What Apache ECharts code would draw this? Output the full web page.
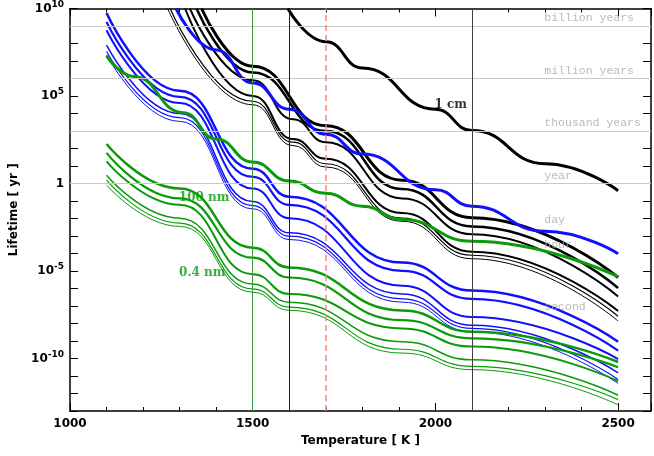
<!DOCTYPE html>
<html>
<head>
<meta charset="utf-8">
<script src="https://cdn.jsdelivr.net/npm/echarts@6/dist/echarts.min.js"></script>
<style>html,body{margin:0;padding:0;background:#fff}#main{width:654px;height:456px}</style>
</head>
<body>
<div id="main"></div>
<script>
// log10(lifetime / yr), temperatures in K
var blackT = [
  [1596, 1700, 1800, 2000, 2100, 2300, 2500],      // 1 cm
  [1360, 1500, 1700, 1909, 2100, 2500],
  [1346, 1500, 1700, 1909, 2100, 2500],
  [1328, 1500, 1610, 1700, 1909, 2100, 2500],
  [1315, 1500, 1610, 1700, 1909, 2100, 2500],
  [1274, 1500, 1610, 1700, 1909, 2100, 2500],
  [1267, 1500, 1610, 1700, 1909, 2100, 2500]
];
var blackLog = [
  [10, 8.1, 6.6, 4.24, 3.03, 1.13, -0.41],
  [10, 6.7, 3.3, 0.19, -1.95, -5.37],
  [10, 6.35, 3.0, -0.32, -2.45, -5.97],
  [10, 5.9, 3.67, 2.36, -0.85, -2.9, -6.46],
  [10, 5.0, 2.54, 1.41, -1.69, -3.9, -7.29],
  [10, 4.7, 2.36, 1.13, -1.98, -4.1, -7.59],
  [10, 4.5, 2.17, 0.94, -2.16, -4.3, -7.86]
];
var blackWidth = [3, 3, 2.5, 2, 2, 1.2, 1];

var blueTopT = [1290, 1400, 1500, 1600, 1700, 1800, 2000, 2100, 2300, 2500];
var blueTopLog = [10, 7.63, 5.75, 4.24, 2.82, 1.68, -0.36, -1.3, -2.73, -4.01];
var blueT = [1100, 1300, 1500, 1600, 1909, 2100, 2500];
var blueLog = [
  [9.74, 5.3, 0.85, -0.75, -4.52, -6.12, -9.04],
  [9.23, 4.95, 0.38, -1.22, -4.99, -6.59, -9.55],
  [8.76, 4.6, -0.28, -1.98, -5.84, -7.63, -10.03],
  [7.91, 4.0, -1.03, -2.82, -6.31, -8.1, -10.82],
  [7.54, 3.77, -1.26, -3.01, -6.59, -8.28, -11.2],
  [7.33, 3.55, -1.45, -3.2, -6.78, -8.47, -11.43]
];
var blueWidth = [2.5, 2.2, 2, 1.5, 1.2, 1];

var greenTopT = [1100, 1174, 1310, 1400, 1500, 1600, 1700, 1800, 1909, 2100, 2500];
var greenTopLog = [7.29, 6.12, 4.05, 2.54, 1.23, 0.14, -0.56, -1.3, -2.05, -3.3, -5.33];
var greenT = [1100, 1300, 1500, 1600, 1909, 2100, 2500];
var greenLog = [
  [2.26, -0.28, -3.67, -4.8, -7.25, -8.47, -10.2],
  [1.75, -0.85, -4.24, -5.37, -7.81, -8.85, -10.5],
  [1.27, -1.22, -5.18, -6.31, -8.28, -9.32, -11.3],
  [0.47, -1.98, -5.74, -6.78, -9.04, -10.07, -12.1],
  [0.19, -2.26, -6.02, -7.06, -9.47, -10.45, -12.35],
  [-0.09, -2.45, -6.21, -7.25, -9.69, -10.64, -12.65]
];
var greenWidth = [2.5, 2.2, 2, 1.5, 1.2, 1];

var timeNames = ['billion years', 'million years', 'thousand years', 'year', 'day', 'hour', 'second'];
var timeValues = [1e9, 1e6, 1e3, 1, 1 / 365.25, 1 / 8766, 1 / 31557600];
var curveLabels = ['1 cm', '100 nm', '0.4 nm'];
var curveLabelPos = [[2042, 4.5], [1367, -0.81], [1362, -5.1]];
var curveLabelColor = ['#000', '#0a9a0a', '#0a9a0a'];
var vLines = [1500, 1600, 1700, 2100];
var vColors = ['#3a9a3a', '#0000ff', '#ff8080', '#404040'];

var BLUE = '#1010ff', GREEN = '#0a9a0a';
var FONT = 'DejaVu Sans';

function toData(ts, logs) {
  return ts.map(function (t, i) { return [t, Math.pow(10, logs[i])]; });
}
function curve(ts, logs, color, w) {
  return {
    type: 'line', data: toData(ts, logs), smooth: 0.5, smoothMonotone: 'x', showSymbol: false,
    lineStyle: { color: color, width: w }, silent: true, z: 3
  };
}

var series = [];
series.push({
  type: 'line', data: [], silent: true,
  markLine: {
    symbol: 'none', silent: true, label: { show: false },
    data: timeValues.map(function (v) {
      return { yAxis: v, lineStyle: { color: '#c8c8c8', width: 1, type: 'solid' } };
    }).concat(vLines.map(function (v, i) {
      return { xAxis: v, lineStyle: { color: vColors[i], width: i === 2 ? 1.5 : 1, type: i === 2 ? [6, 4] : 'solid' } };
    }))
  }
});
blackT.forEach(function (ts, i) { series.push(curve(ts, blackLog[i], '#000', blackWidth[i])); });
series.push(curve(blueTopT, blueTopLog, BLUE, 3));
blueLog.forEach(function (l, i) { series.push(curve(blueT, l, BLUE, blueWidth[i])); });
series.push(curve(greenTopT, greenTopLog, GREEN, 3));
greenLog.forEach(function (l, i) { series.push(curve(greenT, l, GREEN, greenWidth[i])); });

series.push({
  type: 'scatter', symbolSize: 0, silent: true, z: 5,
  data: timeNames.map(function (n, i) { return { value: [2298, timeValues[i]], name: n }; }),
  label: { show: true, position: [0, -14], formatter: '{b}', color: '#a8a8a8', fontFamily: 'Liberation Mono', fontSize: 11.5 }
});
series.push({
  type: 'scatter', symbolSize: 0, silent: true, z: 5,
  data: curveLabels.map(function (n, i) {
    return { value: [curveLabelPos[i][0], Math.pow(10, curveLabelPos[i][1])], name: n,
      label: { color: curveLabelColor[i] } };
  }),
  label: { show: true, position: 'inside', formatter: '{b}', fontFamily: 'DejaVu Serif', fontWeight: 'bold', fontSize: 12 }
});

var supMap = { '10': 1, '5': 1, '-5': 1, '-10': 1 };
var myChart = echarts.init(document.getElementById('main'));
var option = {
  animation: false,
  grid: { left: 66, right: 3, top: 5, bottom: 45 },
  xAxis: [{
    type: 'value', min: 1000, max: 2590, interval: 500,
    name: 'Temperature [ K ]', nameLocation: 'middle', nameGap: 20,
    nameTextStyle: { fontFamily: FONT, fontWeight: 'bold', fontSize: 12, color: '#000' },
    axisLine: { lineStyle: { color: '#000', width: 1.5 } },
    axisTick: { inside: true, length: 8, lineStyle: { color: '#000' } },
    minorTick: { show: true, splitNumber: 5, length: 4, lineStyle: { color: '#000' } },
    axisLabel: { fontFamily: FONT, fontWeight: 'bold', fontSize: 12, color: '#000', margin: 7,
      formatter: function (v) { return String(v); } },
    splitLine: { show: false }
  }, {
    type: 'value', position: 'top', min: 1000, max: 2590, interval: 500,
    axisLine: { show: true, lineStyle: { color: '#000', width: 1.5 } },
    axisTick: { inside: true, length: 8, lineStyle: { color: '#000' } },
    minorTick: { show: true, splitNumber: 5, length: 4, lineStyle: { color: '#000' } },
    axisLabel: { show: false }, splitLine: { show: false }
  }],
  yAxis: [{
    type: 'log', logBase: 10, min: 1e-13, max: 1e10, interval: 1,
    name: 'Lifetime [ yr ]', nameLocation: 'middle', nameGap: 50,
    nameTextStyle: { fontFamily: FONT, fontWeight: 'bold', fontSize: 12, color: '#000' },
    axisLine: { show: true, lineStyle: { color: '#000', width: 1.5 } },
    axisTick: { inside: true, length: 8, lineStyle: { color: '#000' } },
    splitLine: { show: false },
    axisLabel: {
      fontFamily: FONT, fontWeight: 'bold', fontSize: 12, color: '#000', margin: 6,
      showMinLabel: true, showMaxLabel: true, hideOverlap: false, interval: 0,
      formatter: function (v) {
        var e = Math.round(Math.log10(v));
        if (e === 0) return '1';
        if (supMap[String(e)]) return '10{s|' + e + '}';
        return '';
      },
      rich: { s: { fontSize: 9, fontFamily: FONT, fontWeight: 'bold', verticalAlign: 'top', padding: [0, 0, 8, 0] } }
    }
  }, {
    type: 'log', logBase: 10, min: 1e-13, max: 1e10, interval: 1, position: 'right',
    axisLine: { show: true, lineStyle: { color: '#000', width: 1.5 } },
    axisTick: { inside: true, length: 8, lineStyle: { color: '#000' } },
    axisLabel: { show: false }, splitLine: { show: false }
  }],
  series: series
};
myChart.setOption(option);
</script>
</body>
</html>
